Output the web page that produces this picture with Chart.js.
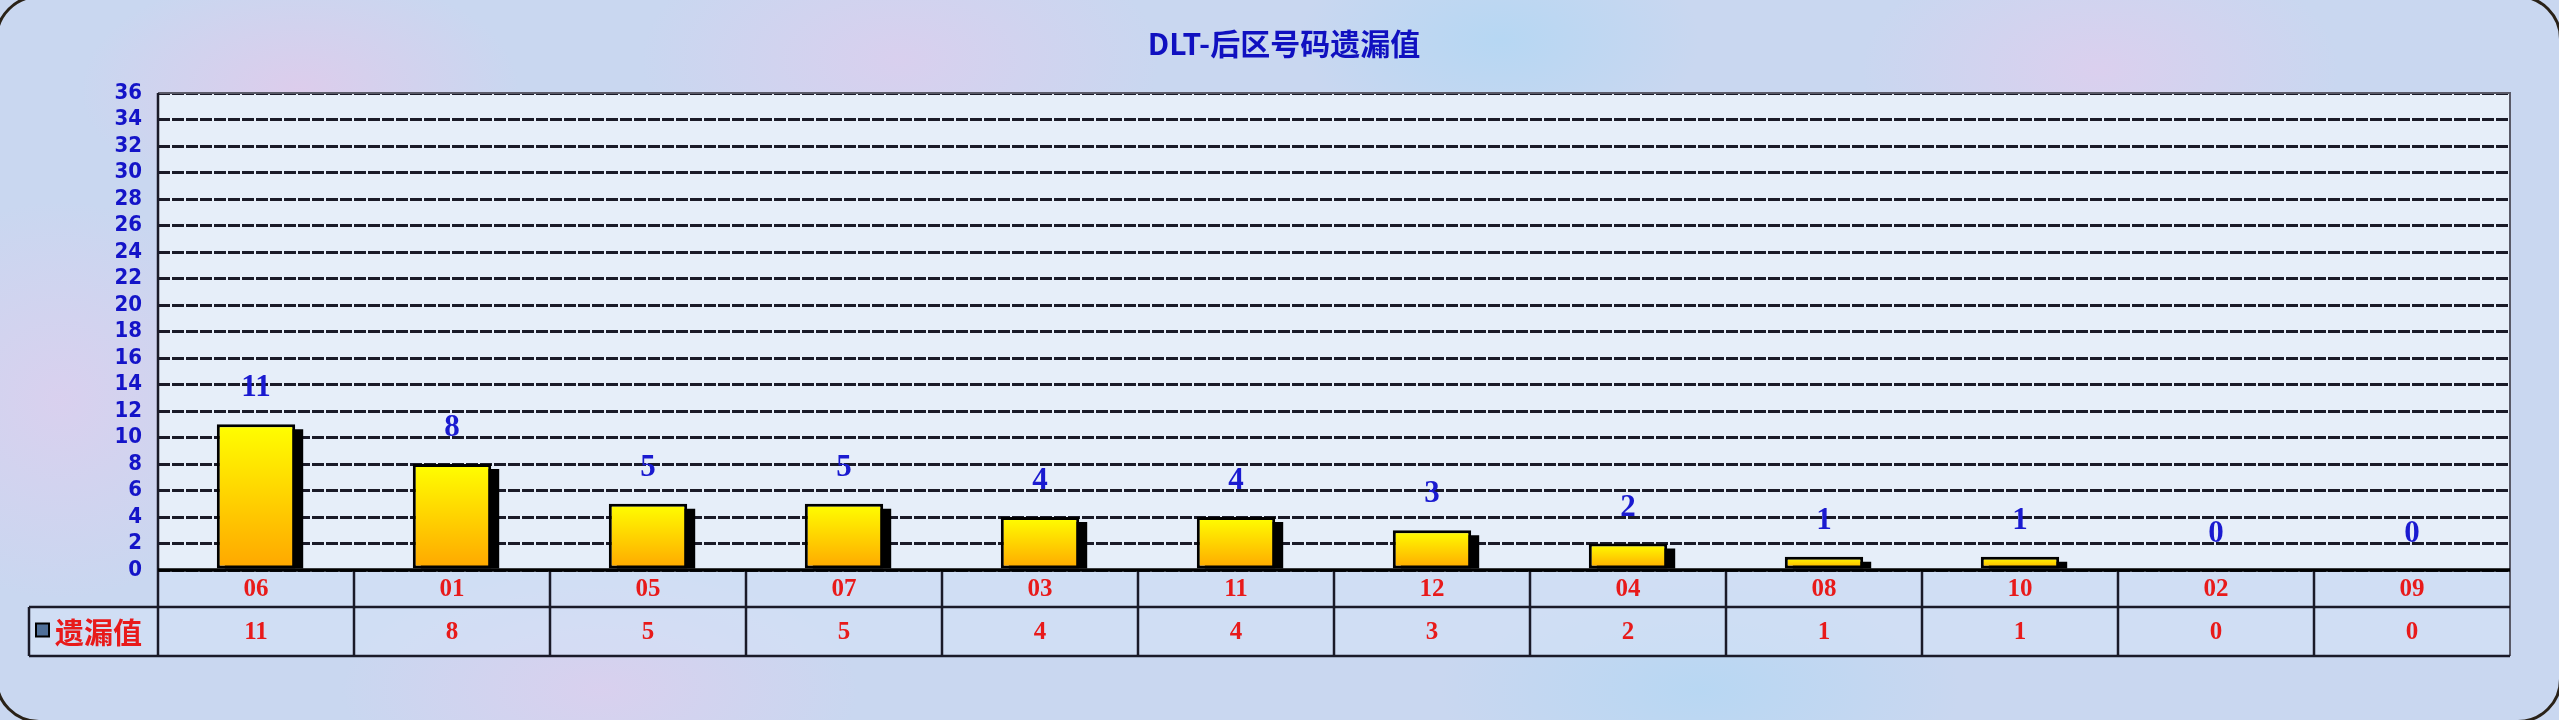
<!DOCTYPE html>
<html>
<head>
<meta charset="utf-8">
<script src="https://cdn.jsdelivr.net/npm/chart.js@4.4.1/dist/chart.umd.min.js"></script>
<style>
  html, body { margin: 0; padding: 0; }
  body {
    width: 2559px; height: 720px; overflow: hidden; position: relative;
    background-color: #c9d7f0;
    background-image:
      radial-gradient(ellipse 220px 120px at 300px 90px, rgba(236, 196, 232, 0.55), transparent),
      radial-gradient(ellipse 260px 140px at 900px 60px, rgba(232, 200, 236, 0.5), transparent),
      radial-gradient(ellipse 200px 110px at 1500px 40px, rgba(170, 215, 245, 0.6), transparent),
      radial-gradient(ellipse 240px 130px at 2100px 70px, rgba(236, 200, 236, 0.5), transparent),
      radial-gradient(ellipse 260px 120px at 600px 690px, rgba(236, 200, 236, 0.45), transparent),
      radial-gradient(ellipse 260px 120px at 1700px 690px, rgba(170, 215, 245, 0.55), transparent),
      radial-gradient(ellipse 200px 200px at 60px 400px, rgba(236, 200, 236, 0.45), transparent);
  }
  #frame {
    position: absolute; left: -5px; top: -5px; width: 2561px; height: 722px;
    border: 3px solid #2a2218; border-radius: 44px; pointer-events: none;
  }
  #wrap { position: absolute; left: 0; top: 0; width: 2559px; height: 720px; }
</style>
</head>
<body>
<div id="wrap"><canvas id="missChart"></canvas></div>
<div id="frame"></div>
<script>
// 数据
const categories = ['06', '01', '05', '07', '03', '11', '12', '04', '08', '10', '02', '09'];
const missValues = [11, 8, 5, 5, 4, 4, 3, 2, 1, 1, 0, 0];
const yTickValues = [0, 2, 4, 6, 8, 10, 12, 14, 16, 18, 20, 22, 24, 26, 28, 30, 32, 34, 36];
const seriesName = '遗漏值';
const chartTitle = 'DLT-后区号码遗漏值';

const ROW_HEIGHT = 49;
const LEGEND_LEFT = 29;
const LINE_COLOR = '#1a1a28';

// 柱子渐变
function barGradient(context) {
    const chart = context.chart;
    const yScale = chart.scales.y;
    if (!chart.chartArea || !yScale) return '#ffd000';
    const v = context.raw || 0;
    const top = yScale.getPixelForValue(v);
    const bottom = yScale.getPixelForValue(0);
    if (bottom - top < 1) return '#ffff00';
    const g = chart.ctx.createLinearGradient(0, top, 0, bottom);
    g.addColorStop(0, '#ffff00');
    g.addColorStop(1, '#ffa600');
    return g;
}

// 背景、阴影、数值和下方数据表
const tablePlugin = {
    id: 'missTable',
    beforeDraw(chart) {
        const { ctx, chartArea } = chart;
        ctx.save();
        ctx.fillStyle = '#e6eef9';
        ctx.fillRect(chartArea.left, chartArea.top, chartArea.right - chartArea.left, chartArea.bottom - chartArea.top);
        const xs = chart.scales.x;
        ctx.fillStyle = 'rgba(214, 226, 246, 0.6)';
        ctx.fillRect(chartArea.left, chartArea.bottom, chartArea.right - chartArea.left, xs.bottom + ROW_HEIGHT - chartArea.bottom);
        ctx.fillRect(LEGEND_LEFT, xs.bottom, chartArea.left - LEGEND_LEFT, ROW_HEIGHT);
        ctx.restore();
    },
    beforeDatasetsDraw(chart) {
        const ctx = chart.ctx;
        const meta = chart.getDatasetMeta(0);
        ctx.save();
        ctx.fillStyle = '#000';
        meta.data.forEach(el => {
            const h = el.base - el.y;
            if (h < 1) return;
            ctx.fillRect(el.x - el.width / 2 + 8, el.y + 5, el.width, h - 5);
        });
        ctx.restore();
    },
    afterDatasetsDraw(chart) {
        const ctx = chart.ctx;
        const meta = chart.getDatasetMeta(0);
        ctx.save();
        ctx.font = 'bold 31px "Liberation Serif", "DejaVu Serif", serif';
        ctx.fillStyle = '#1a1ad0';
        ctx.textAlign = 'center';
        ctx.textBaseline = 'middle';
        meta.data.forEach((el, i) => {
            ctx.fillText(String(missValues[i]), el.x, el.y - 36);
        });
        ctx.restore();
    },
    afterDraw(chart) {
        const { ctx, chartArea } = chart;
        const xs = chart.scales.x;
        const rowTop = xs.bottom;
        const rowBottom = rowTop + ROW_HEIGHT;
        const half = (xs.getPixelForValue(1) - xs.getPixelForValue(0)) / 2;

        ctx.save();
        // 外框
        ctx.strokeStyle = '#5a5a68';
        ctx.lineWidth = 2;
        ctx.beginPath();
        ctx.moveTo(chartArea.left, chartArea.top);
        ctx.lineTo(chartArea.right, chartArea.top);
        ctx.lineTo(chartArea.right, rowBottom);
        ctx.stroke();

        ctx.strokeStyle = LINE_COLOR;
        ctx.lineWidth = 2.5;
        ctx.beginPath();
        ctx.moveTo(chartArea.left, chartArea.top);
        ctx.lineTo(chartArea.left, rowBottom);
        ctx.moveTo(LEGEND_LEFT, rowTop);
        ctx.lineTo(chartArea.right, rowTop);
        ctx.moveTo(LEGEND_LEFT, rowBottom);
        ctx.lineTo(chartArea.right, rowBottom);
        ctx.moveTo(LEGEND_LEFT, rowTop);
        ctx.lineTo(LEGEND_LEFT, rowBottom);
        for (let i = 1; i < categories.length; i++) {
            const x = xs.getPixelForValue(i) - half;
            ctx.moveTo(x, chartArea.bottom);
            ctx.lineTo(x, rowBottom);
        }
        ctx.stroke();

        // 零线
        ctx.lineWidth = 3.5;
        ctx.strokeStyle = '#000';
        ctx.beginPath();
        ctx.moveTo(chartArea.left, chartArea.bottom);
        ctx.lineTo(chartArea.right, chartArea.bottom);
        ctx.stroke();

        // 数据行
        ctx.font = 'bold 25px "Liberation Serif", "DejaVu Serif", serif';
        ctx.fillStyle = '#e81a1a';
        ctx.textAlign = 'center';
        ctx.textBaseline = 'middle';
        missValues.forEach((v, i) => {
            ctx.fillText(String(v), xs.getPixelForValue(i), rowTop + ROW_HEIGHT / 2 + 1);
        });

        // 图例
        const cy = rowTop + ROW_HEIGHT / 2;
        ctx.fillStyle = '#4f6f98';
        ctx.fillRect(36, cy - 8, 13, 13);
        ctx.lineWidth = 2;
        ctx.strokeStyle = '#000';
        ctx.strokeRect(36, cy - 8, 13, 13);
        ctx.font = 'bold 29px "Noto Sans CJK SC", sans-serif';
        ctx.fillStyle = '#e81a1a';
        ctx.textAlign = 'left';
        ctx.fillText(seriesName, 55, cy + 1);
        ctx.restore();
    }
};

const ctx = document.getElementById('missChart').getContext('2d');
const missChart = new Chart(ctx, {
    type: 'bar',
    data: {
        labels: categories,
        datasets: [{
            label: seriesName,
            data: missValues,
            backgroundColor: barGradient,
            borderColor: '#000',
            borderWidth: 3,
            borderSkipped: false,
            categoryPercentage: 1,
            barPercentage: 0.4
        }]
    },
    options: {
        responsive: true,
        maintainAspectRatio: false,
        animation: false,
        devicePixelRatio: 1,
        layout: {
            padding: { left: 58, right: 49, top: 0, bottom: 113 }
        },
        scales: {
            x: {
                offset: true,
                grid: { display: false, drawTicks: false },
                border: { display: false },
                afterFit(scale) { scale.height = 37; },
                ticks: {
                    padding: 5,
                    color: '#e81a1a',
                    font: { family: '"Liberation Serif", "DejaVu Serif", serif', size: 25, weight: 'bold' }
                }
            },
            y: {
                min: yTickValues[0],
                max: yTickValues[yTickValues.length - 1],
                afterFit(scale) { scale.width = 100; },
                afterBuildTicks(scale) {
                    scale.ticks = yTickValues.map(v => ({ value: v }));
                },
                grid: { color: LINE_COLOR, lineWidth: 3, drawTicks: false },
                border: { display: false, dash: [12, 2] },
                ticks: {
                    autoSkip: false,
                    padding: 16,
                    color: '#1414c8',
                    font: { family: '"Liberation Sans Narrow", "DejaVu Sans Condensed", sans-serif', size: 22, weight: 'bold' }
                }
            }
        },
        plugins: {
            legend: { display: false },
            tooltip: { enabled: false },
            title: {
                display: true,
                text: chartTitle,
                color: '#1010c0',
                font: { family: '"Noto Sans CJK SC", sans-serif', size: 30, weight: 'bold' },
                padding: { top: 26, bottom: 31 }
            }
        }
    },
    plugins: [tablePlugin]
});
</script>
</body>
</html>
